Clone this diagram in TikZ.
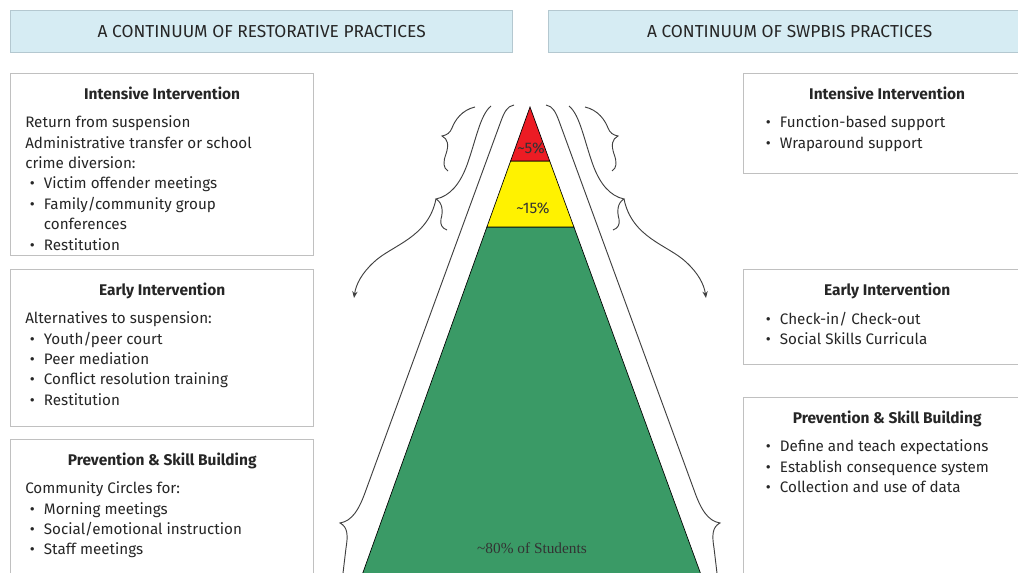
\documentclass[tikz,border=0pt]{standalone}
\usepackage{fontspec}
\setmainfont{Fira Sans}
\newfontfamily\tierserif{Liberation Serif}
\usepackage{xcolor}
\usetikzlibrary{arrows.meta, positioning}

\definecolor{hdrblue}{RGB}{214,236,243}
\definecolor{hdrline}{RGB}{180,200,208}
\definecolor{panelline}{RGB}{192,192,192}
\definecolor{inkgray}{RGB}{38,38,38}
\definecolor{tierred}{RGB}{236,28,36}
\definecolor{tieryellow}{RGB}{255,242,0}
\definecolor{tiergreen}{RGB}{58,154,102}

\newcommand{\bul}{\makebox[14pt][l]{\hspace{3.5pt}\textbullet}}

\begin{document}
\begin{tikzpicture}[
    x=0.75pt, y=-0.75pt,
    header/.style={
        rectangle,
        draw=hdrline,
        fill=hdrblue,
        line width=1pt,
        anchor=north west,
        minimum height=31.5pt,
        font=\fontsize{13}{15}\selectfont,
        text=inkgray
    },
    panel/.style={
        rectangle,
        draw=panelline,
        fill=white,
        line width=1pt,
        anchor=north west
    },
    paneltitle/.style={
        inner sep=0pt,
        font=\bfseries\fontsize{11.6}{14}\selectfont,
        text=inkgray
    },
    panelbody/.style={
        inner sep=0pt,
        anchor=north west,
        align=left,
        font=\fontsize{11.4}{15.3}\selectfont,
        text=inkgray
    },
    tier/.style={
        draw=black,
        line width=0.5pt
    },
    tierlabel/.style={
        inner sep=0pt,
        font=\fontsize{11.5}{14}\selectfont,
        text=black!80
    },
    brace/.style={
        draw=black!75,
        line width=0.7pt
    },
    bracearrow/.style={
        brace,
        -{Stealth[length=5pt, width=4pt]}
    }
]

\clip (0,0) rectangle (1018,573);
\fill[white] (0,0) rectangle (1018,573);

% Headers
\node[header, minimum width=376.5pt] (hdrRP) at (10,10) {A CONTINUUM OF RESTORATIVE PRACTICES};
\node[header, minimum width=361.5pt] (hdrPB) at (548,10) {A CONTINUUM OF SWPBIS PRACTICES};

% Restorative practices panels
\node[panel, minimum width=227.25pt, minimum height=136.5pt] (rpI) at (10,73) {};
\node[paneltitle, below=10pt of rpI.north] (rpItitle) {Intensive Intervention};
\node[panelbody] (rpIbody) at ([xshift=11.25pt, yshift=-32pt]rpI.north west) {Return from suspension\\
Administrative transfer or school\\
crime diversion:\\
\bul Victim offender meetings\\
\bul Family/community group\\
\hspace*{14pt}conferences\\
\bul Restitution};

\node[panel, minimum width=227.25pt, minimum height=117.75pt] (rpE) at (10,269) {};
\node[paneltitle, below=10pt of rpE.north] (rpEtitle) {Early Intervention};
\node[panelbody] (rpEbody) at ([xshift=11.25pt, yshift=-32pt]rpE.north west) {Alternatives to suspension:\\
\bul Youth/peer court\\
\bul Peer mediation\\
\bul Conflict resolution training\\
\bul Restitution};

\node[panel, minimum width=227.25pt, minimum height=120pt] (rpP) at (10,439) {};
\node[paneltitle, below=10pt of rpP.north] (rpPtitle) {Prevention \& Skill Building};
\node[panelbody] (rpPbody) at ([xshift=11.25pt, yshift=-32pt]rpP.north west) {Community Circles for:\\
\bul Morning meetings\\
\bul Social/emotional instruction\\
\bul Staff meetings};

% SWPBIS panels
\node[panel, minimum width=215.25pt, minimum height=75pt] (pbI) at (743,73) {};
\node[paneltitle, below=10pt of pbI.north] (pbItitle) {Intensive Intervention};
\node[panelbody] (pbIbody) at ([xshift=13.5pt, yshift=-32pt]pbI.north west) {\bul Function-based support\\
\bul Wraparound support};

\node[panel, minimum width=215.25pt, minimum height=71.25pt] (pbE) at (743,269) {};
\node[paneltitle, below=10pt of pbE.north] (pbEtitle) {Early Intervention};
\node[panelbody] (pbEbody) at ([xshift=13.5pt, yshift=-32pt]pbE.north west) {\bul Check-in/ Check-out\\
\bul Social Skills Curricula};

\node[panel, minimum width=215.25pt, minimum height=152.25pt] (pbP) at (743,397) {};
\node[paneltitle, below=10pt of pbP.north] (pbPtitle) {Prevention \& Skill Building};
\node[panelbody] (pbPbody) at ([xshift=13.5pt, yshift=-32pt]pbP.north west) {\bul Define and teach expectations\\
\bul Establish consequence system\\
\bul Collection and use of data};

% Pyramid
\coordinate (apex) at (530,107);
\coordinate (redL) at (510.6,161);
\coordinate (redR) at (549.7,161);
\coordinate (ylwL) at (486.9,227);
\coordinate (ylwR) at (573.9,227);
\coordinate (grnL) at (356.7,590);
\coordinate (grnR) at (706.6,590);

\filldraw[tier, fill=tiergreen] (ylwL) -- (ylwR) -- (grnR) -- (grnL) -- cycle;
\filldraw[tier, fill=tieryellow] (redL) -- (redR) -- (ylwR) -- (ylwL) -- cycle;
\filldraw[tier, fill=tierred] (apex) -- (redR) -- (redL) -- cycle;

\node[tierlabel] (lblRed) at (531,148) {\textasciitilde5\%};
\node[tierlabel] (lblYlw) at (533,208) {\textasciitilde15\%};
\node[tierlabel, font=\tierserif\fontsize{11.5}{12}\selectfont] (lblGrn) at (532,548) {\textasciitilde80\% of Students};

% Braces and arrows, left side then mirrored
\foreach \sd/\shx/\scx in {L/0/1, R/1060/-1} {
\begin{scope}[shift={(\shx,0)}, xscale=\scx]
    \draw[brace] (475,107) .. controls (462,110) and (455,120) .. (452,128)
        .. controls (450,133) and (447,135) .. (442,136)
        .. controls (448,139) and (449,145) .. (446,154)
        .. controls (443,162) and (443,168) .. (448,171);
    \draw[brace] (491,106) .. controls (480,115) and (476,140) .. (467,165)
        .. controls (460,184) and (450,196) .. (436,199)
        .. controls (443,203) and (443,212) .. (441,219)
        .. controls (440,225) and (442,228) .. (447,230);
    \draw[brace] (514,105) .. controls (507,106) and (504,113) .. (501,121)
        -- (366,490)
        .. controls (359,510) and (352,521) .. (340,523)
        .. controls (348,527) and (348,536) .. (346,548)
        -- (341,590);
    \coordinate (tip\sd) at (436,199);
    \coordinate (arrow\sd) at (354,298);
    \draw[bracearrow] (tip\sd) .. controls (428,238) and (392,245) .. (374,262)
        .. controls (362,273) and (356,284) .. (arrow\sd);
\end{scope}
}

\end{tikzpicture}
\end{document}
